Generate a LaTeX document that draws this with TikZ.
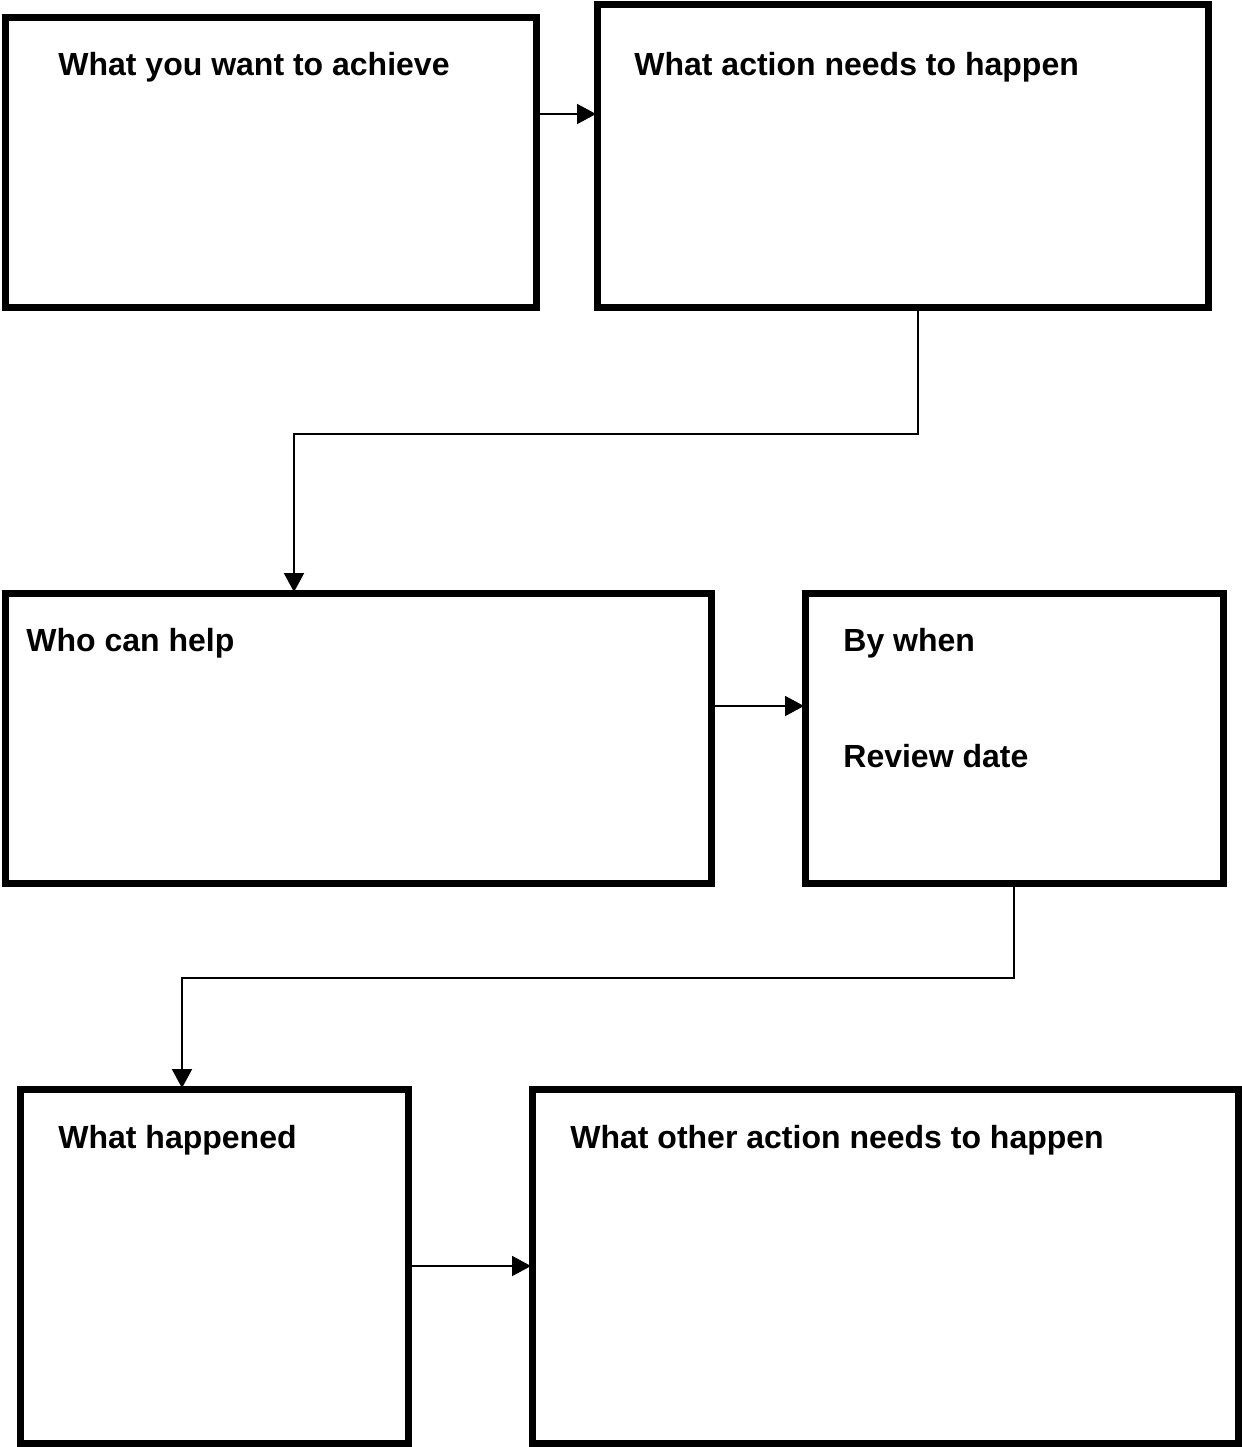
\documentclass[tikz,border=0pt]{standalone}
\usepackage{fontspec}
\setmainfont{Liberation Sans}
\usetikzlibrary{arrows.meta,positioning}

\begin{document}
\begin{tikzpicture}[x=0.5pt,y=-0.5pt,
 >={Triangle[length=9.5pt,width=10pt]},
 box/.style={draw,rectangle,line width=3.5pt,inner sep=0pt,outer sep=0.5pt},
 lab/.style={font=\fontsize{16}{19}\selectfont\bfseries,inner sep=0pt,anchor=base west},
 link/.style={->,line width=1pt}]
\useasboundingbox (0,0) rectangle (1242,1447);
\node[box,minimum width=265.5pt,minimum height=145pt] (achieve) at (270.5,162) {};
\node[box,minimum width=305.5pt,minimum height=151.5pt] (action) at (902.5,155.5) {};
\node[box,minimum width=353pt,minimum height=145pt] (help) at (358,738) {};
\node[box,minimum width=209pt,minimum height=145pt] (when) at (1014,738) {};
\node[box,minimum width=194pt,minimum height=177pt] (happened) at (214,1266) {};
\node[box,minimum width=353pt,minimum height=177pt] (other) at (885,1266) {};
\node[lab] (achievet) at (58,75.5) {What you want to achieve};
\node[lab] (actiont) at (634,75.5) {What action needs to happen};
\node[lab] (helpt) at (26,651.5) {Who can help};
\node[lab] (whent) at (843,651.5) {By when};
\node[lab] (reviewt) at (843,767.5) {Review date};
\node[lab] (happenedt) at (58,1148.5) {What happened};
\node[lab] (othert) at (570,1148.5) {What other action needs to happen};
\draw[link] ([yshift=24pt]achieve.east) -- ([yshift=24pt]achieve.east -| action.west);
\draw[link] ([xshift=7.75pt]action.south) -- ++(0,126) -| ([xshift=-32pt]help.north);
\draw[link] ([yshift=16pt]help.east) -- ([yshift=16pt]help.east -| when.west);
\draw[link] (when.south) -- ++(0,94) -| ([xshift=-16pt]happened.north);
\draw[link] (happened.east) -- (other.west);
\end{tikzpicture}
\end{document}
